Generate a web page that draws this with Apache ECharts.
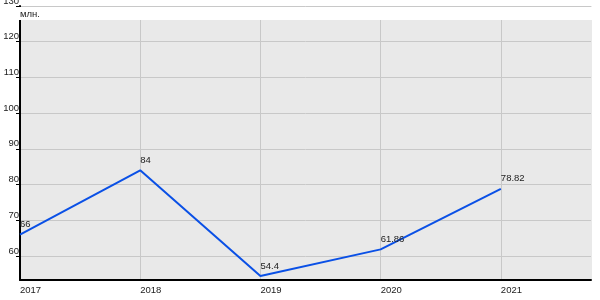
<!DOCTYPE html>
<html><head><meta charset="utf-8">
<script src="https://cdn.jsdelivr.net/npm/echarts@6/dist/echarts.min.js"></script>
<style>html,body{margin:0;padding:0;background:#fff}#c{width:600px;height:300px}</style>
</head><body><div id="c"></div>
<script>
const years = [2017, 2018, 2019, 2020, 2021];
const values = [66, 84, 54.4, 61.86, 78.82];
const yUnit = 'млн.';
const yMin = 53.28, yMax = 130, xMax = 2021.75;

const chart = echarts.init(document.getElementById('c'), null, {renderer: 'canvas'});
const font = 'Arial, "Liberation Sans", sans-serif';
const fs = 9.5;
chart.setOption({
  animation: false,
  grid: {left: 20, right: 9, top: 6, bottom: 20, show: true, backgroundColor: '#e9e9e9', borderWidth: 0,
    containLabel: false, outerBoundsMode: 'none'},
  xAxis: {
    type: 'value', min: 2017, max: xMax, interval: 1,
    axisLine: {show: true, lineStyle: {color: '#000', width: 2}},
    axisTick: {show: false},
    axisLabel: {showMaxLabel: false, color: '#222', fontFamily: font, fontSize: fs, align: 'left', margin: 5,
      formatter: v => String(Math.round(v))},
    splitLine: {show: true, lineStyle: {color: ['#c8c8c8','#c8c8c8','#c8c8c8','#c8c8c8','#c8c8c8','#e9e9e9'], width: 1}}
  },
  yAxis: {
    type: 'value', min: yMin, max: yMax, minInterval: 10, maxInterval: 10,
    axisLine: {show: true, lineStyle: {color: '#000', width: 2}},
    axisTick: {show: true, length: 4, lineStyle: {color: '#000'}},
    axisLabel: {showMinLabel: false, color: '#222', fontFamily: font, fontSize: fs, verticalAlign: 'bottom', margin: 1},
    splitLine: {show: true, lineStyle: {color: '#c8c8c8', width: 1}}
  },
  graphic: [
    {type: 'rect', left: 19, top: 7, z: 50, shape: {width: 574, height: 13}, style: {fill: '#fff'}},
    {type: 'text', left: 20, top: 9, z: 51, style: {text: yUnit, fill: '#222', font: fs + 'px ' + font}}
  ],
  series: [{
    type: 'line',
    data: years.map((y, i) => [y, values[i]]),
    symbol: 'circle', symbolSize: 0, showSymbol: true,
    lineStyle: {color: '#0a50e6', width: 2},
    itemStyle: {color: '#0a50e6'},
    label: {show: true, position: 'top', align: 'left', distance: 5, color: '#222', fontFamily: font, fontSize: fs,
      formatter: p => String(p.value[1])}
  }]
});
</script></body></html>
